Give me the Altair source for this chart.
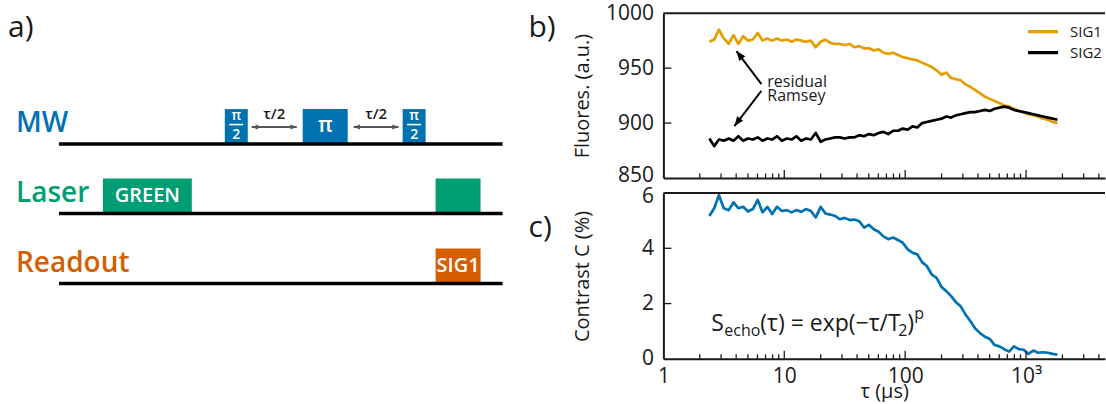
import altair as alt
import pandas as pd

FONT = "Open Sans"
INK = "#1a1a1a"
BLUE = "#0072B2"
GREEN = "#009E73"
VERMILLION = "#D55E00"
ORANGE = "#E69F00"

# ---------------- data ----------------
tau_us = [2.40, 2.63, 2.88, 3.16, 3.47, 3.80, 4.17, 4.57, 5.01, 5.50,
          6.03, 6.61, 7.24, 7.94, 8.71, 9.55, 10.5, 11.5, 12.6, 13.8,
          15.1, 16.6, 18.2, 20.0, 21.9, 24.0, 26.3, 28.8, 31.6, 34.7,
          38.0, 41.7, 45.7, 50.1, 55.0, 60.3, 66.1, 72.4, 79.4, 87.1,
          95.5, 105, 115, 126, 138, 151, 166, 182, 200, 219,
          240, 263, 288, 316, 347, 380, 417, 457, 501, 550,
          603, 661, 724, 794, 871, 955, 1047, 1148, 1259, 1380,
          1514, 1660, 1820]
sig1 = [974, 976, 985, 977, 972, 980, 972, 979, 975, 976,
        982, 975, 977, 975, 977, 975, 976, 974, 976, 975,
        974, 975, 969, 974, 976, 973, 972, 972, 971, 972,
        969, 970, 968, 968, 966, 967, 964, 963, 964, 962,
        960, 959, 958, 957, 955, 953, 951, 948, 944, 946,
        941, 940, 939, 935, 933, 930, 927, 924, 922, 920,
        918, 916, 915, 913, 911, 910, 908, 907, 906, 904,
        903, 901, 900]
sig2 = [886, 879, 885, 884, 886, 884, 888, 884, 886, 885,
        887, 884, 886, 885, 888, 884, 886, 885, 888, 884,
        886, 885, 891, 883, 885, 886, 887, 887, 886, 887,
        887, 889, 888, 890, 889, 891, 892, 890, 893, 893,
        895, 894, 897, 896, 900, 901, 902, 903, 904, 906,
        905, 907, 908, 909, 910, 910, 911, 912, 911, 913,
        914, 915, 914, 912, 911, 910, 909, 908, 907, 906,
        905, 904, 903]
contrast = [5.17, 5.45, 5.92, 5.45, 5.38, 5.66, 5.45, 5.50, 5.33, 5.42,
            5.75, 5.30, 5.50, 5.24, 5.50, 5.35, 5.38, 5.30, 5.38, 5.32,
            5.42, 5.35, 5.12, 5.50, 5.26, 5.22, 5.17, 5.05, 5.10, 5.02,
            5.04, 4.98, 4.75, 4.85, 4.69, 4.60, 4.43, 4.33, 4.39, 4.30,
            4.20, 3.96, 3.84, 3.78, 3.50, 3.36, 3.05, 2.93, 2.60, 2.45,
            2.27, 2.05, 1.90, 1.60, 1.36, 1.10, 0.93, 0.80, 0.72, 0.50,
            0.45, 0.35, 0.26, 0.45, 0.35, 0.33, 0.18, 0.30, 0.22, 0.24,
            0.22, 0.18, 0.15]
series_names = ["SIG1", "SIG2"]
y_ticks_b = [850, 900, 950, 1000]
y_ticks_c = [0, 2, 4, 6]
x_ticks = [1, 10, 100, 1000]
x_tick_labels = ["1", "10", "100", "10³"]
minor_ticks = [2, 3, 4, 5, 6, 7, 8, 9, 20, 30, 40, 50, 60, 70, 80, 90,
               200, 300, 400, 500, 600, 700, 800, 900, 2000, 3000, 4000]
major_ticks = [10, 100, 1000]

# pulse-sequence diagram (a)
channel_names = ["MW", "Laser", "Readout"]
channel_colors = [BLUE, GREEN, VERMILLION]
pulse_channel = [0, 0, 0, 1, 1, 2]
pulse_start = [225, 303, 403, 103, 436, 436]
pulse_end = [248, 348, 426, 192, 481, 481]
pulse_label = ["π/2", "π", "π/2", "GREEN", "", "SIG1"]
delay_label = ["τ/2", "τ/2"]
delay_start = [252, 354]
delay_end = [297, 399]

# ---------------- layout constants ----------------
WA = 560          # width of diagram panel
PW = 442          # plot width of b / c
HB = 165
HC = 166
GAP_H = 104
GAP_V = 15
TOP = 13
BOTTOM = TOP + HB + GAP_V + HC
NO_FRAME = alt.ViewBackground(stroke="transparent", strokeWidth=0)

one = pd.DataFrame({"k": [0]})


def text_px(text, x, y, size, color=INK, align="left", weight="normal"):
    return alt.Chart(one).mark_text(
        text=text, fontSize=size, font=FONT, color=color, align=align,
        baseline="alphabetic", fontWeight=weight
    ).encode(x=alt.value(x), y=alt.value(y))


HEAD = "M0,0 L-0.8,2 L0.8,2 Z"

# ---------------- panel a ----------------
xa = alt.Scale(domain=[0, WA], nice=False, zero=False)
ya = alt.Scale(domain=[BOTTOM, TOP], nice=False, zero=False)
base_y = [144, 213.5, 283.5]
label_base = [132.3, 201.7, 271.7]
box_h = 35

tl_df = pd.DataFrame({"x0": [59] * 3, "x1": [503] * 3, "yb": base_y})
a_lines = alt.Chart(tl_df).mark_rule(color="#000000", strokeWidth=3.5).encode(
    x=alt.X("x0:Q", scale=xa, axis=None), x2="x1:Q",
    y=alt.Y("yb:Q", scale=ya, axis=None))

box_df = pd.DataFrame({
    "x0": pulse_start, "x1": pulse_end,
    "yb": [base_y[c] for c in pulse_channel],
    "yt": [base_y[c] - box_h for c in pulse_channel],
    "col": [channel_colors[c] for c in pulse_channel]})
a_boxes = alt.Chart(box_df).mark_rect().encode(
    x=alt.X("x0:Q", scale=xa, axis=None), x2="x1:Q",
    y=alt.Y("yt:Q", scale=ya, axis=None), y2="yb:Q",
    color=alt.Color("col:N", scale=None))

ch_df = pd.DataFrame({"name": channel_names, "col": channel_colors,
                      "x": [16] * 3, "y": label_base})
a_names = alt.Chart(ch_df).mark_text(
    align="left", baseline="alphabetic", fontSize=28, font=FONT, fontWeight=600
).encode(x=alt.X("x:Q", scale=xa, axis=None), y=alt.Y("y:Q", scale=ya, axis=None),
         text="name:N", color=alt.Color("col:N", scale=None))

# white labels inside the pulses
wt, wx, wy, ws = [], [], [], []
for i, lab in enumerate(pulse_label):
    cx = (pulse_start[i] + pulse_end[i]) / 2
    yb = base_y[pulse_channel[i]]
    if lab == "π/2":
        wt += ["π", "2"]; wx += [cx, cx]; wy += [yb - 24, yb - 5.5]; ws += [14, 14]
    elif lab == "π":
        wt.append(lab); wx.append(cx); wy.append(yb - 11.7); ws.append(21)
    elif lab:
        wt.append(lab); wx.append(cx); wy.append(yb - 11.8); ws.append(20)
w_df = pd.DataFrame({"t": wt, "x": wx, "y": wy, "s": ws})
a_white = alt.Chart(w_df).mark_text(
    align="center", baseline="alphabetic", font=FONT, fontWeight=600, color="white"
).encode(x=alt.X("x:Q", scale=xa, axis=None), y=alt.Y("y:Q", scale=ya, axis=None),
         text="t:N", size=alt.Size("s:Q", scale=None))

frac_df = pd.DataFrame({
    "x0": [pulse_start[i] + 4.5 for i, l in enumerate(pulse_label) if l == "π/2"],
    "x1": [pulse_end[i] - 4.5 for i, l in enumerate(pulse_label) if l == "π/2"],
    "y": [124.5, 124.5]})
a_frac = alt.Chart(frac_df).mark_rule(color="white", strokeWidth=1.6).encode(
    x=alt.X("x0:Q", scale=xa, axis=None), x2="x1:Q", y=alt.Y("y:Q", scale=ya, axis=None))

d_df = pd.DataFrame({"x0": delay_start, "x1": delay_end, "y": [127, 127],
                     "xm": [(a + b) / 2 for a, b in zip(delay_start, delay_end)],
                     "yl": [118.5, 118.5], "t": delay_label})
a_darrow = alt.Chart(d_df).mark_rule(color="#555555", strokeWidth=2).encode(
    x=alt.X("x0:Q", scale=xa, axis=None), x2="x1:Q", y=alt.Y("y:Q", scale=ya, axis=None))
dh_df = pd.DataFrame({"x": delay_start + delay_end, "y": [127] * 4,
                      "ang": [270, 270, 90, 90]})
a_dheads = alt.Chart(dh_df).mark_point(
    shape=HEAD, filled=True, size=40, color="#555555", opacity=1, strokeWidth=0
).encode(x=alt.X("x:Q", scale=xa, axis=None), y=alt.Y("y:Q", scale=ya, axis=None),
         angle=alt.Angle("ang:Q", scale=None))
a_dlab = alt.Chart(d_df).mark_text(
    align="center", baseline="alphabetic", fontSize=15, font=FONT, fontWeight=600, color=INK
).encode(x=alt.X("xm:Q", scale=xa, axis=None), y=alt.Y("yl:Q", scale=ya, axis=None), text="t:N")

p_df = pd.DataFrame({"t": ["a)", "b)", "c)"], "x": [8, 529, 529], "y": [37, 37, 237]})
a_panels = alt.Chart(p_df).mark_text(
    align="left", baseline="alphabetic", fontSize=30, font=FONT, color=INK
).encode(x=alt.X("x:Q", scale=xa, axis=None), y=alt.Y("y:Q", scale=ya, axis=None), text="t:N")

panel_a = alt.layer(a_boxes, a_lines, a_names, a_white, a_frac, a_darrow, a_dheads,
                    a_dlab, a_panels).properties(width=WA, height=BOTTOM - TOP, view=NO_FRAME)

# ---------------- shared pieces for b / c ----------------
xs = alt.Scale(type="log", domain=[1, 4500], nice=False)
label_expr = " : ".join(f"datum.value == {v} ? '{l}'" for v, l in zip(x_ticks, x_tick_labels)) + " : ''"


def y_axis(values, title, h, edge_value, edge_offset):
    return alt.Axis(values=values, ticks=False, grid=False, domainColor=INK, domainWidth=2,
                    format="d", labelFontSize=21, labelPadding=10, labelColor=INK, labelFont=FONT,
                    labelFlush=False, labelOverlap=False,
                    labelOffset={"condition": {"test": f"datum.value == {edge_value}",
                                               "value": edge_offset}, "value": 0},
                    title=title, titleFontSize=20,
                    titleFont=FONT, titleFontWeight="normal", titleColor=INK,
                    titleX=-71, titleY=h / 2, titleAngle=270, titleAlign="center",
                    titleBaseline="bottom")


def frame_layers(h, yticks, ydom):
    mn = pd.DataFrame({"tau": minor_ticks})
    mj = pd.DataFrame({"tau": major_ticks})
    yt = pd.DataFrame({"value": [v for v in yticks if ydom[0] < v < ydom[1]]})
    return [
        alt.Chart(one).mark_rule(color=INK, strokeWidth=2).encode(
            x=alt.value(0), x2=alt.value(PW), y=alt.value(0)),
        alt.Chart(mn).mark_rule(color=INK, strokeWidth=1.3).encode(
            x=alt.X("tau:Q"), y=alt.value(h), y2=alt.value(h - 4.5)),
        alt.Chart(mj).mark_rule(color=INK, strokeWidth=1.3).encode(
            x=alt.X("tau:Q"), y=alt.value(h), y2=alt.value(h - 8)),
        alt.Chart(yt).mark_rule(color=INK, strokeWidth=1.3).encode(
            y=alt.Y("value:Q"), x=alt.value(0), x2=alt.value(8)),
    ]


# ---------------- panel b ----------------
df_b = pd.DataFrame({"tau": tau_us * 2, "value": sig1 + sig2,
                     "series": [series_names[0]] * len(tau_us) + [series_names[1]] * len(tau_us)})
b_lines = alt.Chart(df_b).mark_line(strokeWidth=2.7, strokeJoin="round").encode(
    x=alt.X("tau:Q", scale=xs, axis=alt.Axis(values=x_ticks, labels=False, ticks=False, grid=False,
                                             title=None, domainColor=INK, domainWidth=2)),
    y=alt.Y("value:Q", scale=alt.Scale(domain=[850, 1000], nice=False, zero=False),
            axis=y_axis(y_ticks_b, "Fluores. (a.u.)", HB, 850, -3)),
    color=alt.Color("series:N", scale=alt.Scale(domain=series_names, range=[ORANGE, "#000000"]),
                    legend=alt.Legend(orient="none", legendX=1027, legendY=11, title=None,
                                      direction="vertical", symbolType="stroke", symbolSize=900,
                                      symbolStrokeWidth=3.2, clipHeight=15, rowPadding=5,
                                      labelFontSize=15, labelFont=FONT, labelColor=INK,
                                      labelOffset=10, padding=0)),
)

arr_df = pd.DataFrame({"tau": [6.47, 6.47], "value": [935.5, 929.4],
                       "tau2": [4.02, 3.87], "value2": [965.5, 897.3], "ang": [322, 217]})
b_arrows = alt.Chart(arr_df).mark_rule(color="#000000", strokeWidth=2).encode(
    x="tau:Q", x2="tau2:Q", y="value:Q", y2="value2:Q")
b_heads = alt.Chart(arr_df).mark_point(
    shape=HEAD, filled=True, size=90, color="#000000", opacity=1, strokeWidth=0
).encode(x="tau2:Q", y="value2:Q", angle=alt.Angle("ang:Q", scale=None))

b_chart = alt.layer(
    b_lines, *frame_layers(HB, y_ticks_b, [850, 1000]), b_arrows, b_heads,
    text_px("residual", 104, 74, 16), text_px("Ramsey", 104, 88, 16),
).properties(width=PW, height=HB, view=NO_FRAME)

# ---------------- panel c ----------------
df_c = pd.DataFrame({"tau": tau_us, "value": contrast})
c_line = alt.Chart(df_c).mark_line(strokeWidth=2.7, strokeJoin="round", color=BLUE).encode(
    x=alt.X("tau:Q", scale=xs,
            axis=alt.Axis(values=x_ticks, labelExpr=label_expr, ticks=False, grid=False,
                          domainColor=INK, domainWidth=2, labelFontSize=21, labelFont=FONT,
                          labelColor=INK, labelPadding=7, labelFlush=False, labelOverlap=False,
                          title="τ (μs)", titleFontSize=20, titleFont=FONT,
                          titleFontWeight="normal", titleColor=INK, titleY=39,
                          titleBaseline="alphabetic")),
    y=alt.Y("value:Q", scale=alt.Scale(domain=[0, 6], nice=False, zero=False),
            axis=y_axis(y_ticks_c, "Contrast C (%)", HC, 6, 4)),
)

formula = [("S", 48, 138, 23), ("echo", 61, 143, 16), ("(τ) = exp(−τ/T", 97, 138, 23),
           ("2", 235, 143, 16), (")", 244, 138, 23), ("p", 251, 126, 16)]
c_chart = alt.layer(
    c_line, *frame_layers(HC, y_ticks_c, [0, 6]),
    *[text_px(t, x, y, s) for t, x, y, s in formula],
).properties(width=PW, height=HC, view=NO_FRAME)

right = alt.vconcat(b_chart, c_chart, spacing=GAP_V, bounds="flush")
chart = alt.hconcat(panel_a, right, spacing=GAP_H, bounds="flush").properties(
    padding={"left": 0, "top": 2, "right": 0, "bottom": 0}
).configure_view(stroke="transparent", strokeWidth=0).configure(font=FONT)

chart.save("out.html", embed_options={"renderer": "svg", "actions": False})
